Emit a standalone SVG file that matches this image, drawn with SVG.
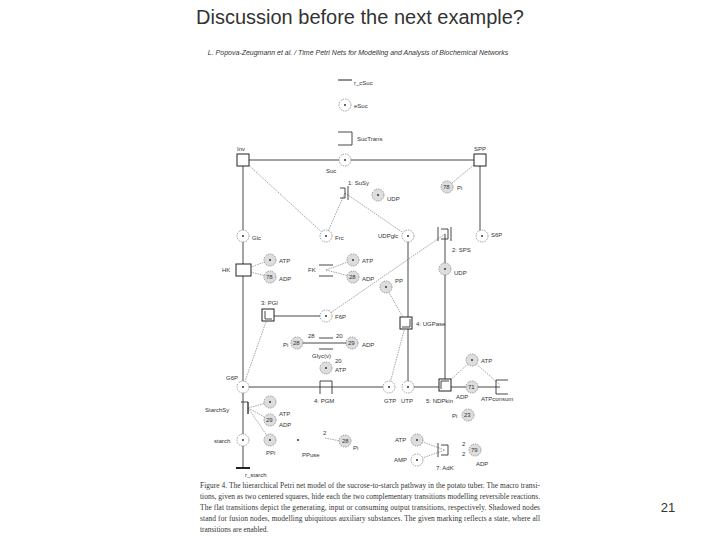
<svg xmlns="http://www.w3.org/2000/svg" width="720" height="540" viewBox="0 0 720 540">
<style>
text{font-family:"Liberation Sans",Arial,sans-serif;fill:#333}
.l{font-size:6px}
.p{fill:#fff;stroke:#777;stroke-width:0.7;stroke-dasharray:1.5 1}
.s{fill:#ddd;stroke:#777;stroke-width:0.7;stroke-dasharray:1.5 1}
.t{fill:#fff;stroke:#222;stroke-width:1}
.e{stroke:#333;stroke-width:0.9;fill:none}
.d{stroke:#666;stroke-width:0.6;fill:none;stroke-dasharray:1.5 1}
.k{fill:#333}
.cap{font-family:"Liberation Serif",serif;font-size:7.4px}
</style>
<rect width="720" height="540" fill="#fff"/>
<text x="360" y="24" font-size="20" text-anchor="middle" fill="#000">Discussion before the next example?</text>
<text x="668" y="512" font-size="13" text-anchor="middle" fill="#000">21</text>
<text x="358" y="55" font-size="7" text-anchor="middle" font-style="italic" font-family="Liberation Serif,serif">L. Popova-Zeugmann et al. / Time Petri Nets for Modelling and Analysis of Biochemical Networks</text>
<g id="connectors">
<line class="e" x1="243" y1="160" x2="480" y2="160"/>
<line class="e" x1="243" y1="160" x2="243" y2="468"/>
<line class="e" x1="480" y1="160" x2="480" y2="236"/>
<line class="d" x1="243" y1="160" x2="326" y2="236"/>
<line class="d" x1="345" y1="193" x2="326" y2="236"/>
<line class="d" x1="345" y1="193" x2="408" y2="236"/>
<line class="d" x1="480" y1="160" x2="447" y2="187"/>
<line class="d" x1="445" y1="234" x2="326" y2="316"/>
<line class="e" x1="408" y1="236" x2="408" y2="387"/>
<line class="e" x1="445" y1="234" x2="445" y2="385"/>
<line class="d" x1="243" y1="270" x2="270" y2="260"/>
<line class="d" x1="243" y1="270" x2="270" y2="277"/>
<line class="d" x1="326" y1="270" x2="353" y2="260"/>
<line class="d" x1="326" y1="270" x2="353" y2="277"/>
<line class="e" x1="268" y1="316" x2="326" y2="316"/>
<line class="d" x1="243" y1="387" x2="268" y2="316"/>
<line class="d" x1="386" y1="287" x2="406" y2="323"/>
<line class="d" x1="389" y1="387" x2="406" y2="323"/>
<line class="e" x1="297" y1="343" x2="352" y2="343"/>
<line class="e" x1="243" y1="387" x2="389" y2="387"/>
<line class="e" x1="408" y1="387" x2="500" y2="387"/>
<line class="d" x1="445" y1="385" x2="472" y2="360"/>
<line class="d" x1="472" y1="360" x2="500" y2="385"/>
<line class="d" x1="248" y1="408" x2="270" y2="402"/>
<line class="d" x1="248" y1="408" x2="270" y2="420"/>
<line class="d" x1="248" y1="408" x2="270" y2="440"/>
<line class="d" x1="417" y1="440" x2="445" y2="450"/>
<line class="d" x1="417" y1="460" x2="445" y2="450"/>
<line class="d" x1="325" y1="438" x2="340" y2="441"/>
</g>
<g id="places">
<circle class="p" cx="345" cy="105" r="6"/><text class="l" x="354" y="108">eSuc</text>
<circle class="p" cx="345" cy="160" r="6"/><text class="l" x="326" y="173">Suc</text>
<circle class="s" cx="447" cy="187" r="6"/><text class="l" x="457" y="190">Pi</text>
<circle class="s" cx="378" cy="195" r="6"/><text class="l" x="387" y="201">UDP</text>
<circle class="p" cx="243" cy="236" r="6"/><text class="l" x="252" y="240">Glc</text>
<circle class="p" cx="326" cy="236" r="6"/><text class="l" x="335" y="240">Frc</text>
<circle class="p" cx="408" cy="236" r="6"/><text class="l" x="378" y="238">UDPglc</text>
<circle class="p" cx="482" cy="236" r="6"/><text class="l" x="491" y="237">S6P</text>
<circle class="s" cx="270" cy="260" r="6"/><text class="l" x="279" y="263">ATP</text>
<circle class="s" cx="270" cy="277" r="6"/><text class="l" x="279" y="281">ADP</text>
<circle class="s" cx="353" cy="260" r="6"/><text class="l" x="362" y="263">ATP</text>
<circle class="s" cx="353" cy="277" r="6"/><text class="l" x="362" y="281">ADP</text>
<circle class="s" cx="445" cy="269" r="6"/><text class="l" x="454" y="275">UDP</text>
<circle class="s" cx="386" cy="287" r="6"/><text class="l" x="395" y="283">PP</text>
<circle class="p" cx="326" cy="316" r="6"/><text class="l" x="335" y="319">F6P</text>
<circle class="s" cx="297" cy="343" r="6"/><text class="l" x="283" y="347">Pi</text>
<circle class="s" cx="352" cy="343" r="6"/><text class="l" x="362" y="347">ADP</text>
<circle class="s" cx="326" cy="368" r="6"/><text class="l" x="335" y="363">20</text><text class="l" x="335" y="372">ATP</text>
<circle class="p" cx="243" cy="387" r="6"/><text class="l" x="226" y="380">G6P</text>
<circle class="p" cx="389" cy="387" r="6"/><text class="l" x="384" y="403">GTP</text>
<circle class="p" cx="408" cy="387" r="6"/><text class="l" x="401" y="403">UTP</text>
<circle class="s" cx="472" cy="360" r="6"/><text class="l" x="481" y="363">ATP</text>
<circle class="s" cx="472" cy="387" r="6"/><text class="l" x="456" y="399">ADP</text>
<circle class="s" cx="468" cy="415" r="6"/><text class="l" x="452" y="418">Pi</text>
<circle class="s" cx="270" cy="402" r="6"/><text class="l" x="279" y="416">ATP</text>
<circle class="s" cx="270" cy="420" r="6"/><text class="l" x="279" y="427">ADP</text>
<circle class="s" cx="270" cy="440" r="6"/><text class="l" x="266" y="455">PPi</text>
<circle class="p" cx="243" cy="440" r="6"/><text class="l" x="214" y="443">starch</text>
<circle class="s" cx="345" cy="441" r="6"/><text class="l" x="353" y="450">Pi</text>
<circle class="s" cx="417" cy="440" r="6"/><text class="l" x="395" y="442">ATP</text>
<circle class="p" cx="417" cy="460" r="6"/><text class="l" x="394" y="462">AMP</text>
<circle class="s" cx="475" cy="450" r="6"/><text class="l" x="476" y="466">ADP</text>
<g class="k">
<circle cx="345" cy="105" r="1"/><circle cx="345" cy="160" r="1"/><circle cx="378" cy="195" r="1"/>
<circle cx="243" cy="236" r="1"/><circle cx="326" cy="236" r="1"/><circle cx="408" cy="236" r="1"/><circle cx="482" cy="236" r="1"/>
<circle cx="270" cy="260" r="1"/><circle cx="353" cy="260" r="1"/><circle cx="445" cy="269" r="1"/><circle cx="386" cy="287" r="1"/>
<circle cx="326" cy="316" r="1"/><circle cx="326" cy="368" r="1"/><circle cx="243" cy="387" r="1"/><circle cx="389" cy="387" r="1"/>
<circle cx="408" cy="387" r="1"/><circle cx="472" cy="360" r="1"/><circle cx="270" cy="402" r="1"/><circle cx="270" cy="440" r="1"/>
<circle cx="243" cy="440" r="1"/><circle cx="417" cy="440" r="1"/><circle cx="417" cy="460" r="1"/>
</g>
<text class="l" x="342" y="443" font-size="5">28</text>
<text class="l" x="293" y="345" font-size="5">28</text>
<text class="l" x="348" y="345" font-size="5">29</text>
<text class="l" x="308" y="338">28</text><text class="l" x="336" y="338">20</text>
<text class="l" x="468" y="389" font-size="5">71</text>
<text class="l" x="464" y="417" font-size="5">23</text>
<text class="l" x="266" y="422" font-size="5">29</text>
<text class="l" x="266" y="279" font-size="5">78</text>
<text class="l" x="349" y="279" font-size="5">28</text>
<text class="l" x="443" y="189" font-size="5">78</text>
<text class="l" x="471" y="452" font-size="5">79</text>
</g>
<g id="transitions">
<line x1="338" y1="80" x2="352" y2="80" stroke="#222"/><text class="l" x="354" y="85">r_cSuc</text>
<path class="e" d="M338 132h14v13h-14"/><text class="l" x="357" y="141">SucTrans</text>
<rect class="t" x="237" y="154" width="12" height="12"/><text class="l" x="237" y="151">Inv</text>
<rect class="t" x="474" y="154" width="12" height="12"/><text class="l" x="474" y="151">SPP</text>
<path class="e" d="M340 188h5v10h-5M348 186v14"/><text class="l" x="348" y="185">1: SuSy</text>
<path class="e" d="M441 229h7v10h-7M438 227v14M451 227v14"/><text class="l" x="452" y="252">2: SPS</text>
<rect class="t" x="236" y="264" width="15" height="12"/><text class="l" x="222" y="272">HK</text>
<path class="e" d="M319 265h14M319 276h14"/><text class="l" x="308" y="272">FK</text>
<rect class="t" x="262" y="309" width="12" height="12"/><path class="e" d="M265 311v8h7"/><text class="l" x="261" y="305">3: PGI</text>
<rect class="t" x="400" y="317" width="12" height="12"/><path class="e" d="M410 319v8h-8"/><text class="l" x="416" y="326">4: UGPase</text>
<path class="e" d="M319 338h14M319 349h14"/><text class="l" x="312" y="358">Glyc(v)</text>
<path class="e" d="M320 394v-13h12v13"/><text class="l" x="314" y="403">4: PGM</text>
<rect class="t" x="439" y="379" width="12" height="12"/><path class="e" d="M441 389v-8h8"/><text class="l" x="426" y="403">5: NDPkin</text>
<path class="e" d="M508 380h-12v14h12"/><text class="l" x="481" y="401">ATPconsum</text>
<path class="e" d="M241 402h7v12M248 402v12"/><text class="l" x="205" y="412">StarchSy</text>
<line x1="236" y1="468" x2="250" y2="468" stroke="#222" stroke-width="2"/><text class="l" x="245" y="477">r_starch</text>
<circle cx="298" cy="440" r="1" fill="#333"/><text class="l" x="302" y="457">PPuse</text><text class="l" x="323" y="435">2</text>
<path class="e" d="M441 445h7v10h-7M438 443v14"/><text class="l" x="436" y="470">7: AdK</text>
<text class="l" x="462" y="446">2</text><text class="l" x="462" y="456">2</text>
</g>
<g id="caption">
<text class="cap" x="200" y="488" textLength="340">Figure 4.   The hierarchical Petri net model of the sucrose-to-starch pathway in the potato tuber. The macro transi-</text>
<text class="cap" x="200" y="499" textLength="340">tions, given as two centered squares, hide each the two complementary transitions modelling reversible reactions.</text>
<text class="cap" x="200" y="510" textLength="340">The flat transitions depict the generating, input or consuming output transitions, respectively.  Shadowed nodes</text>
<text class="cap" x="200" y="521" textLength="340">stand for fusion nodes, modelling ubiquitous auxiliary substances.  The given marking reflects a state, where all</text>
<text class="cap" x="200" y="532">transitions are enabled.</text>
</g>
</svg>
